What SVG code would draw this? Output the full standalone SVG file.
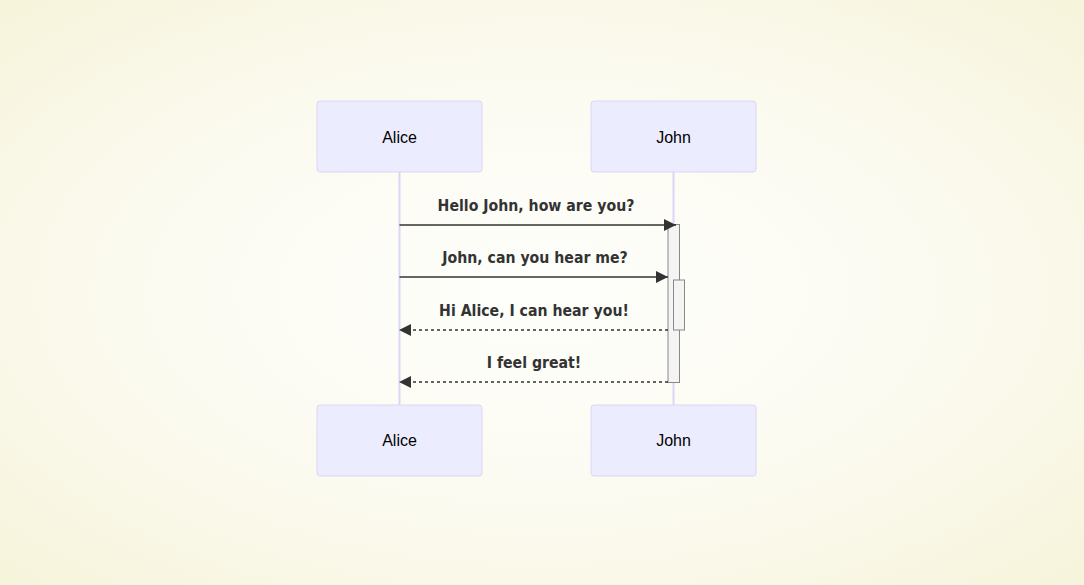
<svg xmlns="http://www.w3.org/2000/svg" width="1084" height="585" viewBox="0 0 1084 585">
<defs>
<radialGradient id="bg" cx="50%" cy="50%" r="75%">
<stop offset="0" stop-color="#fefefb"/>
<stop offset="0.45" stop-color="#fcfbf2"/>
<stop offset="1" stop-color="#f6f3d8"/>
</radialGradient>
<marker id="arrow" markerWidth="12" markerHeight="12" refX="10" refY="5" viewBox="0 0 10 10" markerUnits="userSpaceOnUse" orient="auto">
<path d="M0,0 L10,5 L0,10 z" fill="#333"/>
</marker>
<style>
.actor{fill:#ececff;stroke:#ddd5f5;stroke-width:1}
.atext{font-family:"Liberation Sans",Arial,sans-serif;font-size:16px;fill:#000;text-anchor:middle;dominant-baseline:central}
.life{stroke:#ddd5f5;stroke-width:2}
.act{fill:#f4f4f4;stroke:#888;stroke-width:1}
.msg{stroke:#333;stroke-width:1.5;fill:none}
.dash{stroke-dasharray:3,3}
.mtext{font-family:"DejaVu Sans Condensed","DejaVu Sans",Verdana,sans-serif;font-size:15.7px;font-weight:bold;fill:#333;text-anchor:middle}
</style>
</defs>
<rect width="1084" height="585" fill="url(#bg)"/>
<g id="lifelines">
<line class="life" x1="399.5" y1="172" x2="399.5" y2="405"/>
<line class="life" x1="673.5" y1="172" x2="673.5" y2="405"/>
</g>
<g id="alice-top"><rect class="actor" x="317" y="101" width="165" height="71" rx="3"/><text class="atext" x="399.5" y="137">Alice</text></g>
<g id="john-top"><rect class="actor" x="591" y="101" width="165" height="71" rx="3"/><text class="atext" x="673.5" y="137">John</text></g>
<g id="alice-bottom"><rect class="actor" x="317" y="405" width="165" height="71" rx="3"/><text class="atext" x="399.5" y="440">Alice</text></g>
<g id="john-bottom"><rect class="actor" x="591" y="405" width="165" height="71" rx="3"/><text class="atext" x="673.5" y="440">John</text></g>
<g id="activations">
<rect class="act" x="668" y="224.5" width="11.5" height="158"/>
<rect class="act" x="673.5" y="280" width="11" height="50"/>
</g>
<g id="connectors">
<line class="msg" x1="399.5" y1="225" x2="676" y2="225" marker-end="url(#arrow)"/>
<line class="msg" x1="399.5" y1="277" x2="668" y2="277" marker-end="url(#arrow)"/>
<line class="msg dash" x1="668" y1="330" x2="399" y2="330" marker-end="url(#arrow)"/>
<line class="msg dash" x1="668" y1="382" x2="399" y2="382" marker-end="url(#arrow)"/>
</g>
<g id="labels">
<text class="mtext" x="536" y="211">Hello John, how are you?</text>
<text class="mtext" x="535" y="263">John, can you hear me?</text>
<text class="mtext" x="534" y="316">Hi Alice, I can hear you!</text>
<text class="mtext" x="534" y="368">I feel great!</text>
</g>
</svg>
